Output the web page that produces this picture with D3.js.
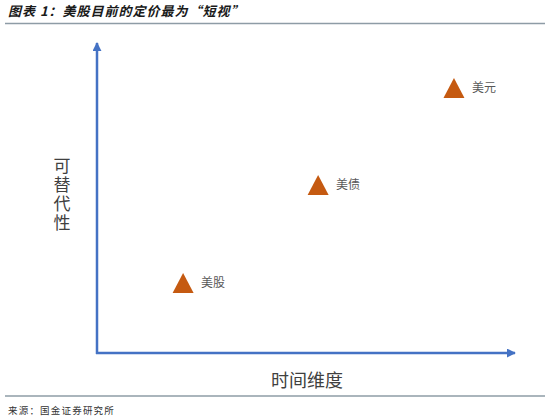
<!DOCTYPE html>
<html>
<head>
<meta charset="utf-8">
<script src="https://cdn.jsdelivr.net/npm/d3@7"></script>
<style>
  body { margin: 0; background: #fff; }
  svg { display: block; }
</style>
</head>
<body>
<svg width="550" height="420"></svg>
<script>
// data: conceptual positions (0-100) on each axis
var assets = ["美股", "美债", "美元"];
var timeScore = [20.6, 52.9, 85.4];        // 时间维度
var substitute = [22.6, 54.2, 85.5];       // 可替代性

var title = "图表 1：美股目前的定价最为“短视”";
var source = "来源：国金证券研究所";
var xTitle = "时间维度";
var yTitle = "可替代性";

var svg = d3.select("svg");
var cjk = "'Noto Sans CJK SC', 'Noto Sans', sans-serif";
var axisColor = "#4472c4";

var x = d3.scaleLinear().domain([0, 100]).range([97, 515]);
var y = d3.scaleLinear().domain([0, 100]).range([353, 43]);

// header / footer
svg.append("text")
    .attr("x", 8).attr("y", 16)
    .attr("font-family", cjk)
    .attr("font-size", 13)
    .attr("font-weight", "bold")
    .attr("font-style", "italic")
    .attr("letter-spacing", 1.0)
    .attr("fill", "#1a1a1a")
    .text(title);

svg.append("line")
    .attr("x1", 5).attr("x2", 545)
    .attr("y1", 23.5).attr("y2", 23.5)
    .attr("stroke", "#8e9ca6").attr("stroke-width", 1.5);

svg.append("line")
    .attr("x1", 5).attr("x2", 545)
    .attr("y1", 396).attr("y2", 396)
    .attr("stroke", "#8e9ca6").attr("stroke-width", 1.5);

svg.append("text")
    .attr("x", 8).attr("y", 414)
    .attr("font-family", cjk)
    .attr("font-size", 9.5)
    .attr("letter-spacing", 1.2)
    .attr("fill", "#333")
    .text(source);

// axes with arrows
var defs = svg.append("defs");
defs.append("marker")
    .attr("id", "arrow")
    .attr("viewBox", "0 0 10 10")
    .attr("refX", 9).attr("refY", 5)
    .attr("markerWidth", 3.6).attr("markerHeight", 3.6)
    .attr("markerUnits", "strokeWidth")
    .attr("orient", "auto")
    .append("path")
    .attr("d", "M0,0L10,5L0,10Z")
    .attr("fill", axisColor);

var x0 = x(0), y0 = y(0);

svg.append("line")
    .attr("x1", x0).attr("y1", y0 + 1)
    .attr("x2", x0).attr("y2", y(100))
    .attr("stroke", axisColor).attr("stroke-width", 2.5)
    .attr("marker-end", "url(#arrow)");

svg.append("line")
    .attr("x1", x0 - 1).attr("y1", y0)
    .attr("x2", x(100)).attr("y2", y0)
    .attr("stroke", axisColor).attr("stroke-width", 2.5)
    .attr("marker-end", "url(#arrow)");

// axis titles
svg.append("text")
    .attr("x", 307).attr("y", 387)
    .attr("text-anchor", "middle")
    .attr("font-family", cjk)
    .attr("font-size", 18)
    .attr("fill", "#404040")
    .text(xTitle);

svg.append("text")
    .attr("x", 62).attr("y", 195)
    .attr("text-anchor", "middle")
    .style("writing-mode", "vertical-rl")
    .attr("font-family", cjk)
    .attr("font-size", 17)
    .attr("letter-spacing", 2)
    .attr("fill", "#404040")
    .text(yTitle);

// triangle markers
var pts = assets.map(function (a, i) {
    return { name: a, t: timeScore[i], s: substitute[i] };
});

var tri = "M0,-10L10.5,10L-10.5,10Z";

var g = svg.append("g");
g.selectAll(".tri")
    .data(pts)
    .enter().append("path")
    .attr("class", "tri")
    .attr("d", tri)
    .attr("transform", function (d) {
        return "translate(" + x(d.t) + "," + y(d.s) + ")";
    })
    .attr("fill", "#c55a11");

g.selectAll(".lbl")
    .data(pts)
    .enter().append("text")
    .attr("class", "lbl")
    .attr("x", function (d) { return x(d.t) + 18; })
    .attr("y", function (d) { return y(d.s) + 4.5; })
    .attr("font-family", cjk)
    .attr("font-size", 12)
    .attr("fill", "#595959")
    .text(function (d) { return d.name; });
</script>
</body>
</html>
